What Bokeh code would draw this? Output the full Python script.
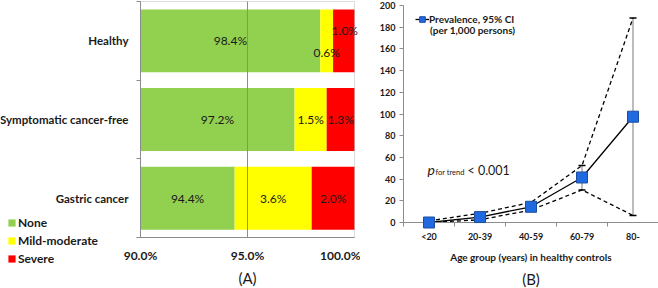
from bokeh.plotting import figure
from bokeh.layouts import row
from bokeh.models import (Range1d, FixedTicker, PrintfTickFormatter, Legend, LegendItem,
                          Label, Whisker, TeeHead, ColumnDataSource, BoxAnnotation)
from bokeh.core.properties import value
from bokeh.embed import file_html
from bokeh.resources import INLINE

# ---------------- Panel A data ----------------
groups = ["Healthy", "Symptomatic cancer-free", "Gastric cancer"]
none_pct = [98.4, 97.2, 94.4]
mild_pct = [0.6, 1.5, 3.6]
severe_pct = [1.0, 1.3, 2.0]
severity_labels = ["None", "Mild-moderate", "Severe"]
pct_ticks = [90, 95, 100]

# ---------------- Panel B data ----------------
age_groups = ["<20", "20-39", "40-59", "60-79", "80-"]
prevalence = [0.0, 5.0, 14.5, 41.5, 97.5]
ci_lower = [0.0, 2.5, 11.5, 30.0, 6.5]
ci_upper = [1.5, 8.5, 18.5, 52.5, 188.5]
prev_ticks = [0, 20, 40, 60, 80, 100, 120, 140, 160, 180, 200]

FONT = "Lato"
GREY = "#8c8c8c"
TXT = "#1a1a1a"
COLORS = ["#92D050", "#FFFF00", "#FF0000"]

# ================= Panel A =================
# The frame covers the whole figure so that the legend and the category labels,
# which sit to the left of the 90% axis, are not clipped.
AX_MIN, AX_MAX = pct_ticks[0], pct_ticks[-1]
ys = list(range(len(groups)))
Y_TOP, Y_BOT = ys[0] - 0.5, ys[-1] + 0.5

pa = figure(width=360, height=288, x_range=Range1d(83.46, 100.28), y_range=Range1d(3.148, -0.513),
            output_backend="svg", toolbar_location=None, frame_align=False,
            min_border_left=0, min_border_right=0, min_border_top=0, min_border_bottom=0)
pa.background_fill_color = "white"
pa.border_fill_color = "white"
pa.outline_line_color = None
pa.grid.visible = False

# stacked segments (clipped at the axis minimum, as in the original axis)
seg_left, seg_right, seg_y, seg_val = [], [], [], []
for i in range(len(groups)):
    start = 0.0
    for v in [none_pct[i], mild_pct[i], severe_pct[i]]:
        end = start + v
        seg_left.append(max(start, AX_MIN))
        seg_right.append(end)
        seg_y.append(ys[i])
        seg_val.append(v)
        start = end

bar_renderers = []
for j, lab in enumerate(severity_labels):
    idx = [k for k in range(len(seg_val)) if k % 3 == j]
    r = pa.hbar(y=[seg_y[k] for k in idx], left=[seg_left[k] for k in idx],
                right=[seg_right[k] for k in idx], height=0.8, fill_color=COLORS[j], line_color=None)
    bar_renderers.append(r)

# bar value labels
nudge = {(0, 1): (0, 12), (0, 2): (1, -10)}
ldx = [nudge.get((k // 3, k % 3), (0, 0))[0] for k in range(len(seg_val))]
ldy = [nudge.get((k // 3, k % 3), (0, 0))[1] for k in range(len(seg_val))]
pa.text(x=[(l + r) / 2 for l, r in zip(seg_left, seg_right)], y=seg_y,
        text=[f"{v:.1f}%" for v in seg_val], x_offset=ldx, y_offset=ldy,
        text_align="center", text_baseline="middle", text_font=value(FONT),
        text_font_size="12px", text_color=TXT)

# plot-area border and the 95% gridline
pa.add_layout(BoxAnnotation(left=AX_MIN, right=AX_MAX, top=Y_TOP, bottom=Y_BOT,
                            fill_alpha=0, line_color=GREY, line_width=1))
pa.segment(x0=pct_ticks[1:-1], x1=pct_ticks[1:-1], y0=[Y_TOP] * (len(pct_ticks) - 2),
           y1=[Y_BOT] * (len(pct_ticks) - 2), line_color=GREY, line_width=1)

pa.xaxis.fixed_location = Y_BOT
pa.xaxis.bounds = (AX_MIN, AX_MAX)
pa.xaxis.ticker = FixedTicker(ticks=pct_ticks)
pa.xaxis.formatter = PrintfTickFormatter(format="%.1f%%")
pa.xaxis.major_tick_out = 0
pa.xaxis.major_tick_in = 0
pa.xaxis.major_tick_line_color = None
pa.xaxis.minor_tick_line_color = None
pa.xaxis.axis_line_color = GREY
pa.xaxis.major_label_standoff = 10
pa.xaxis.major_label_text_font = FONT
pa.xaxis.major_label_text_font_style = "bold"
pa.xaxis.major_label_text_font_size = "12px"
pa.xaxis.major_label_text_color = TXT

pa.yaxis.fixed_location = AX_MIN
pa.yaxis.bounds = (Y_TOP, Y_BOT)
pa.yaxis.ticker = FixedTicker(ticks=ys, minor_ticks=[y - 0.5 for y in ys] + [ys[-1] + 0.5])
pa.yaxis.major_label_overrides = {y: g for y, g in zip(ys, groups)}
pa.yaxis.major_tick_line_color = None
pa.yaxis.major_tick_out = 0
pa.yaxis.major_tick_in = 0
pa.yaxis.minor_tick_out = 4
pa.yaxis.minor_tick_in = 0
pa.yaxis.minor_tick_line_color = GREY
pa.yaxis.axis_line_color = GREY
pa.yaxis.major_label_standoff = 8
pa.yaxis.major_label_text_font = FONT
pa.yaxis.major_label_text_font_style = "bold"
pa.yaxis.major_label_text_font_size = "11.5px"
pa.yaxis.major_label_text_color = TXT

legend_a = Legend(items=[LegendItem(label=l, renderers=[r]) for l, r in zip(severity_labels, bar_renderers)],
                  location=(7, 22), orientation="vertical",
                  glyph_width=9, glyph_height=9, label_height=9, spacing=3, label_standoff=2,
                  padding=0, margin=0, border_line_color=None, background_fill_alpha=0,
                  label_text_font=FONT, label_text_font_style="bold",
                  label_text_font_size="12px", label_text_color=TXT)
pa.add_layout(legend_a)

pa.add_layout(Label(x=(AX_MIN + AX_MAX) / 2, y=3.02, text="(A)", text_align="center",
                    text_baseline="middle", text_font=FONT, text_font_size="15px", text_color=TXT))

# ================= Panel B =================
pb = figure(width=298, height=288, x_range=Range1d(-0.5, 4.5), y_range=Range1d(0, 200),
            output_backend="svg", toolbar_location=None, frame_align=False,
            min_border_left=43, min_border_right=0, min_border_top=5, min_border_bottom=66)
pb.background_fill_color = "white"
pb.border_fill_color = "white"
pb.outline_line_color = None
pb.grid.visible = False

xs = list(range(len(age_groups)))
src_b = ColumnDataSource(dict(x=xs, mean=prevalence, lo=ci_lower, hi=ci_upper))

pb.add_layout(Whisker(base="x", upper="hi", lower="lo", source=src_b,
                      line_color="#a6a6a6", line_width=1.5,
                      upper_head=TeeHead(size=7, line_color="black", line_width=1.5),
                      lower_head=TeeHead(size=7, line_color="black", line_width=1.5)))

pb.line("x", "hi", source=src_b, line_color="black", line_width=1.3, line_dash="4 3")
pb.line("x", "lo", source=src_b, line_color="black", line_width=1.3, line_dash="4 3")
mean_line = pb.line("x", "mean", source=src_b, line_color="black", line_width=1.3)
mean_pts = pb.scatter("x", "mean", source=src_b, marker="square", size=11,
                      fill_color="#1F6AE0", line_color="#1D4E9E", line_width=1)
mean_pts.level = "overlay"

pb.xaxis.ticker = FixedTicker(ticks=xs, minor_ticks=[x - 0.5 for x in xs] + [xs[-1] + 0.5])
pb.xaxis.major_label_overrides = {x: a for x, a in zip(xs, age_groups)}
pb.xaxis.major_tick_line_color = None
pb.xaxis.major_tick_out = 0
pb.xaxis.major_tick_in = 0
pb.xaxis.minor_tick_out = 4
pb.xaxis.minor_tick_in = 0
pb.xaxis.minor_tick_line_color = GREY
pb.xaxis.axis_line_color = GREY
pb.xaxis.major_label_standoff = 4
pb.xaxis.major_label_text_font = FONT
pb.xaxis.major_label_text_font_style = "bold"
pb.xaxis.major_label_text_font_size = "9px"
pb.xaxis.major_label_text_color = TXT
pb.xaxis.axis_label = "Age group (years) in healthy controls"
pb.xaxis.axis_label_standoff = 6
pb.xaxis.axis_label_text_font = FONT
pb.xaxis.axis_label_text_font_style = "bold"
pb.xaxis.axis_label_text_font_size = "10px"
pb.xaxis.axis_label_text_color = TXT

pb.yaxis.ticker = FixedTicker(ticks=prev_ticks)
pb.yaxis.major_tick_out = 4
pb.yaxis.major_tick_in = 0
pb.yaxis.minor_tick_line_color = None
pb.yaxis.major_tick_line_color = GREY
pb.yaxis.axis_line_color = GREY
pb.yaxis.major_label_standoff = 4
pb.yaxis.major_label_text_font = FONT
pb.yaxis.major_label_text_font_style = "bold"
pb.yaxis.major_label_text_font_size = "9px"
pb.yaxis.major_label_text_color = TXT

legend_b = Legend(items=[LegendItem(label="Prevalence, 95% CI", renderers=[mean_line, mean_pts])],
                  location=(12, 195), glyph_width=14, glyph_height=16, label_height=16,
                  label_standoff=0, padding=0, margin=0, border_line_color=None,
                  background_fill_alpha=0, label_text_font=FONT, label_text_font_style="bold",
                  label_text_font_size="10px", label_text_color=TXT)
pb.add_layout(legend_b)
pb.add_layout(Label(x=0.02, y=177, text="(per 1,000 persons)", text_baseline="middle",
                    text_font=FONT, text_font_style="bold", text_font_size="10px", text_color=TXT))

# p for trend
pb.add_layout(Label(x=-0.03, y=41, text="p", text_font=FONT, text_font_style="italic",
                    text_font_size="14px", text_color=TXT, text_baseline="bottom"))
pb.add_layout(Label(x=-0.03, y=41, x_offset=8, y_offset=1.5, text="for trend", text_font=FONT,
                    text_font_size="7.5px", text_color=TXT, text_baseline="bottom"))
pb.add_layout(Label(x=-0.03, y=41, x_offset=40, text="< 0.001", text_font=FONT,
                    text_font_size="12.5px", text_color=TXT, text_baseline="bottom"))

# panel tag under the axis title (overlay level so it is drawn outside the frame)
tag_b = pb.text(x=[(xs[0] + xs[-1]) / 2], y=[-52.5], text=["(B)"], text_align="center",
                text_baseline="middle", text_font=value(FONT), text_font_size="15px",
                text_color=TXT)
tag_b.level = "overlay"

layout = row(pa, pb)
open("out.html", "w").write(file_html(layout, INLINE))
